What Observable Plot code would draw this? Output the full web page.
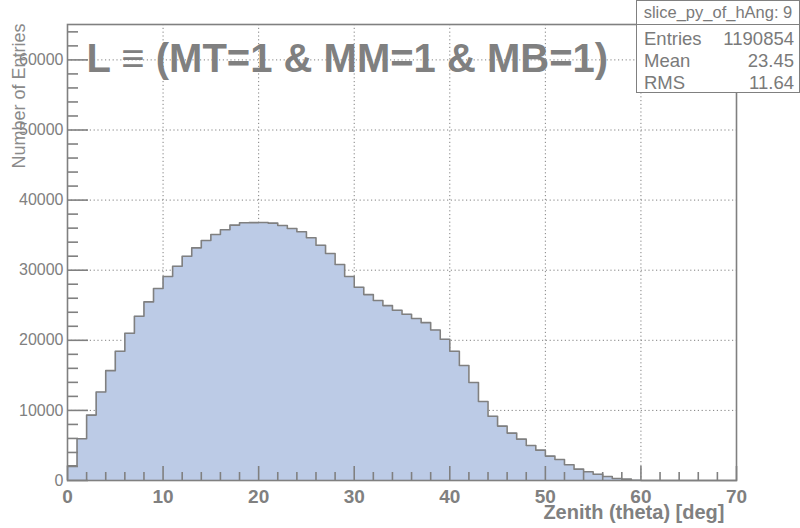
<!DOCTYPE html>
<html><head><meta charset="utf-8">
<script src="https://cdn.jsdelivr.net/npm/d3@7"></script>
<script src="https://cdn.jsdelivr.net/npm/@observablehq/plot@0.6"></script>
<style>
body{margin:0;background:#fff;}
#wrap{position:relative;width:800px;height:528px;overflow:hidden;font-family:"Liberation Sans",Arial,sans-serif;}
#wrap svg{position:absolute;left:0;top:0;}
#stats{position:absolute;left:636px;top:0px;width:162px;height:91px;border:1.5px solid #808080;background:#fff;color:#7a7a7a;}
#stats .hdr{position:absolute;left:0;right:0;top:0;height:23px;border-bottom:1.5px solid #808080;text-align:center;font-size:16.5px;line-height:22px;}
#stats .row{position:absolute;left:7px;right:5px;height:22px;font-size:18.5px;line-height:22px;}
#stats .row span:last-child{position:absolute;right:0;}
</style></head><body><div id="wrap"></div>
<script>
// Histogram: 1-degree bins from 0 to 70 deg
const binLow = [0,1,2,3,4,5,6,7,8,9,10,11,12,13,14,15,16,17,18,19,20,21,22,23,24,25,26,27,28,29,30,31,32,33,34,35,36,37,38,39,40,41,42,43,44,45,46,47,48,49,50,51,52,53,54,55,56,57,58,59,60,61,62,63,64,65,66,67,68,69];
const binWidth = 1;
const counts = [2100,5950,9330,12620,15670,18430,21000,23430,25480,27380,
  29100,30570,32000,33190,34240,35100,35760,36430,36760,36780,
  36800,36710,36380,35950,35480,34620,33570,32380,30810,29100,
  27570,26520,25670,24950,24290,23710,23100,22520,21480,20140,
  18430,16400,13970,11260,9160,7760,6760,5900,5000,4330,
  3480,3000,2240,1620,1240,900,570,290,190,40,
  0,0,0,0,0,0,0,0,0,0];
const xMajor = [0,10,20,30,40,50,60,70];
const xMinor = [2,4,6,8,12,14,16,18,22,24,26,28,32,34,36,38,42,44,46,48,52,54,56,58,62,64,66,68];
const xGrid = [10,20,30,40,50,60];
const yMajor = [0,10000,20000,30000,40000,50000,60000];
const yMinor = [2000,4000,6000,8000,12000,14000,16000,18000,22000,24000,26000,28000,32000,34000,36000,38000,42000,44000,46000,48000,52000,54000,56000,58000,62000,64000];
const yGrid = [10000,20000,30000,40000,50000,60000];
const yMax = 65050;
const titleText = "L \u2261 (MT=1 & MM=1 & MB=1)";
const xLabel = "Zenith (theta) [deg]";
const yLabel = "Number of Entries";
const statsName = "slice_py_of_hAng: 9";
const statsRows = [["Entries","1190854"],["Mean","23.45"],["RMS","11.64"]];

const steps = binLow.map((x,i)=>({x, y: counts[i]}));
steps.push({x: binLow[binLow.length-1] + binWidth, y: counts[counts.length-1]});

const grey = "#808080";
const chart = Plot.plot({
  width: 800, height: 528,
  marginLeft: 67, marginRight: 64, marginTop: 24, marginBottom: 48,
  style: {fontFamily: "'Liberation Sans', Arial, sans-serif", background: "#fff"},
  x: {domain: [0, 70]},
  y: {domain: [0, yMax]},
  marks: [
    Plot.gridX(xGrid, {stroke: grey, strokeOpacity: 1, strokeWidth: 1, strokeDasharray: "1.2,2.6"}),
    Plot.gridY(yGrid, {stroke: grey, strokeOpacity: 1, strokeWidth: 1, strokeDasharray: "1.2,2.6"}),
    Plot.areaY(steps, {x: "x", y: "y", curve: "step-after", fill: "#bccbe6"}),
    Plot.lineY(steps, {x: "x", y: "y", curve: "step-after", stroke: grey, strokeWidth: 1.6}),
    Plot.frame({stroke: grey, strokeWidth: 1.6}),
    Plot.axisX(xMajor, {tickSize: -14, tickPadding: 23, fontSize: 19, fontWeight: "bold", color: grey, strokeWidth: 1.6, label: null, tickFormat: d3.format("d")}),
    Plot.axisX(xMinor, {tickSize: -8, text: null, color: grey, strokeWidth: 1.6, label: null}),
    Plot.axisY(yMajor, {tickSize: -21, tickPadding: 25, fontSize: 16, color: grey, strokeWidth: 1.6, label: null, tickFormat: d3.format("d")}),
    Plot.axisY(yMinor, {tickSize: -11, text: null, color: grey, strokeWidth: 1.6, label: null}),
    Plot.text([yLabel], {frameAnchor: "top-left", dx: -48, dy: -1, rotate: -90, textAnchor: "end", lineAnchor: "middle", fontSize: 18, fill: "#8a8a8a"}),
    Plot.text([xLabel], {frameAnchor: "bottom-right", dx: -12, dy: 38, textAnchor: "end", lineAnchor: "bottom", fontSize: 20, fontWeight: "bold", fill: grey}),
    Plot.text([titleText], {frameAnchor: "top-left", dx: 19, dy: 47, textAnchor: "start", lineAnchor: "bottom", fontSize: 40, fontWeight: "bold", fill: grey})
  ]
});
const wrap = document.getElementById("wrap");
wrap.appendChild(chart);

const stats = document.createElement("div");
stats.id = "stats";
const hdr = document.createElement("div");
hdr.className = "hdr"; hdr.textContent = statsName;
stats.appendChild(hdr);
statsRows.forEach((r, i) => {
  const row = document.createElement("div");
  row.className = "row";
  row.style.top = (27 + i * 22) + "px";
  const a = document.createElement("span"); a.textContent = r[0];
  const b = document.createElement("span"); b.textContent = r[1];
  row.appendChild(a); row.appendChild(b);
  stats.appendChild(row);
});
wrap.appendChild(stats);
</script>
</body></html>
